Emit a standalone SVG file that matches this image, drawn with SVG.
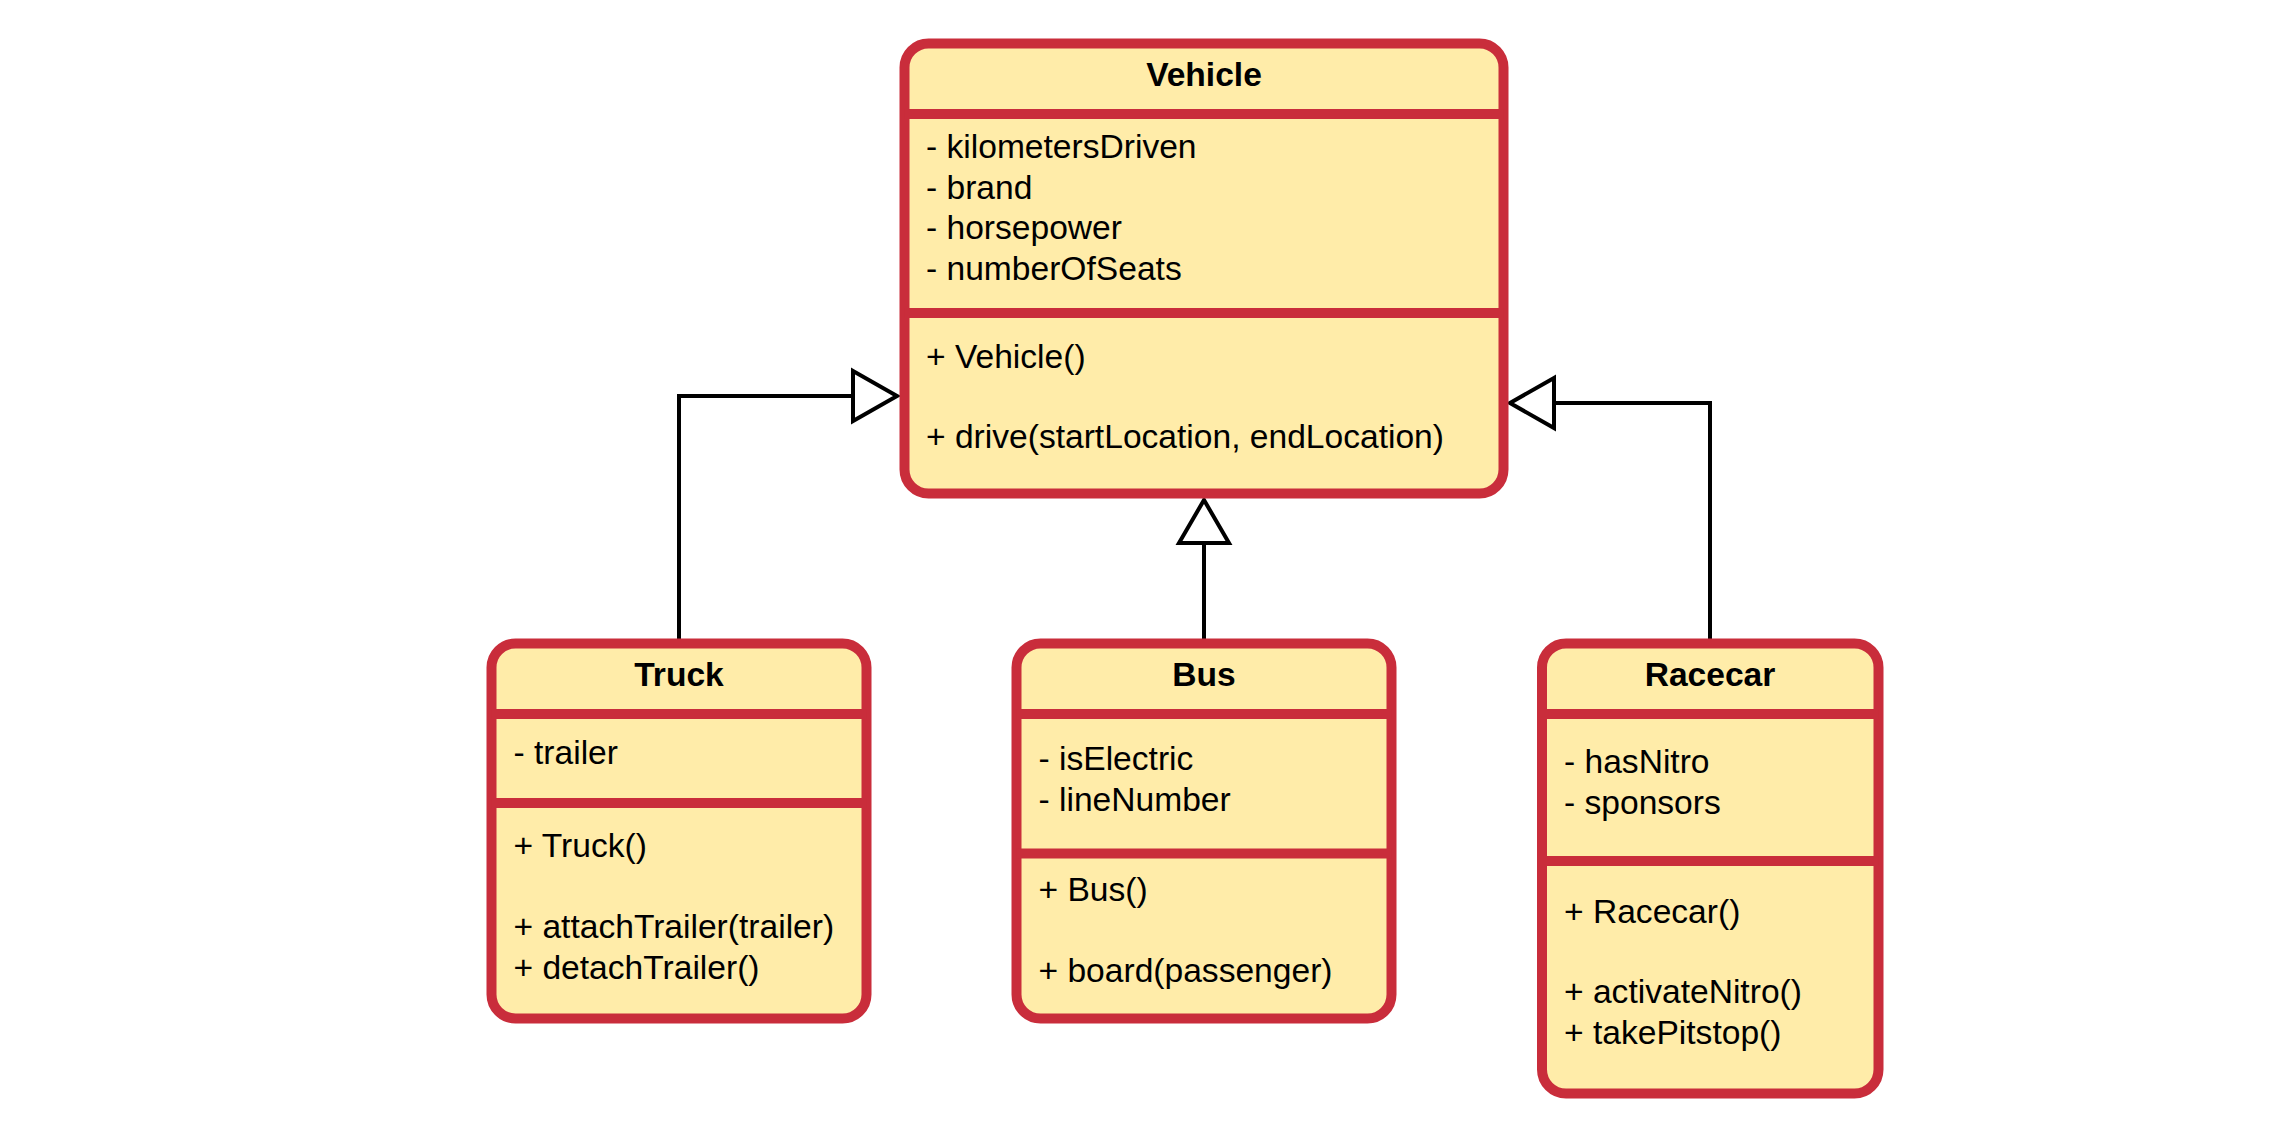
<svg xmlns="http://www.w3.org/2000/svg" width="2269" height="1123" viewBox="0 0 2269 1123">
  <style>
    .box { fill: #FFECA9; stroke: #C92D3B; stroke-width: 10; }
    .div { stroke: #C92D3B; stroke-width: 10; fill: none; }
    .t { font-family: "Liberation Sans", Arial, sans-serif; font-size: 33.6px; fill: #000000; }
    .title { font-weight: bold; text-anchor: middle; }
    .edge { fill: none; stroke: #000000; stroke-width: 4; }
    .head { fill: #FFFFFF; stroke: #000000; stroke-width: 4; stroke-linejoin: miter; }
  </style>
  <rect width="2269" height="1123" fill="#FFFFFF"/>

  <g id="connectors">
    <g id="edge-truck-vehicle">
      <path class="edge" d="M679,643 V396 H853"/>
      <polygon class="head" points="853,371 897,396 853,421"/>
    </g>
    <g id="edge-bus-vehicle">
      <path class="edge" d="M1204,640 V543"/>
      <polygon class="head" points="1179,543 1204,500 1229,543"/>
    </g>
    <g id="edge-racecar-vehicle">
      <path class="edge" d="M1710,643 V403 H1554"/>
      <polygon class="head" points="1554,378 1510,403 1554,428"/>
    </g>
  </g>

  <g id="vehicle">
    <rect class="box" x="904.5" y="43.5" width="599" height="450" rx="24" ry="24"/>
    <line class="div" x1="904.5" y1="114" x2="1503.5" y2="114"/>
    <line class="div" x1="904.5" y1="313" x2="1503.5" y2="313"/>
    <text class="t title" x="1204" y="86">Vehicle</text>
    <text class="t" x="926" y="158">- kilometersDriven</text>
    <text class="t" x="926" y="198.5">- brand</text>
    <text class="t" x="926" y="239">- horsepower</text>
    <text class="t" x="926" y="279.5">- numberOfSeats</text>
    <text class="t" x="926" y="368">+ Vehicle()</text>
    <text class="t" x="926" y="448">+ drive(startLocation, endLocation)</text>
  </g>

  <g id="truck">
    <rect class="box" x="491.5" y="643.5" width="375" height="375" rx="24" ry="24"/>
    <line class="div" x1="491.5" y1="714" x2="866.5" y2="714"/>
    <line class="div" x1="491.5" y1="803" x2="866.5" y2="803"/>
    <text class="t title" x="679" y="686">Truck</text>
    <text class="t" x="513.5" y="764">- trailer</text>
    <text class="t" x="513.5" y="857">+ Truck()</text>
    <text class="t" x="513.5" y="938">+ attachTrailer(trailer)</text>
    <text class="t" x="513.5" y="978.5">+ detachTrailer()</text>
  </g>

  <g id="bus">
    <rect class="box" x="1016.5" y="643.5" width="375" height="375" rx="24" ry="24"/>
    <line class="div" x1="1016.5" y1="714" x2="1391.5" y2="714"/>
    <line class="div" x1="1016.5" y1="853.5" x2="1391.5" y2="853.5"/>
    <text class="t title" x="1204" y="686">Bus</text>
    <text class="t" x="1038.5" y="770">- isElectric</text>
    <text class="t" x="1038.5" y="810.5">- lineNumber</text>
    <text class="t" x="1038.5" y="901">+ Bus()</text>
    <text class="t" x="1038.5" y="981.5">+ board(passenger)</text>
  </g>

  <g id="racecar">
    <rect class="box" x="1542" y="643.5" width="336.5" height="450" rx="24" ry="24"/>
    <line class="div" x1="1542" y1="714" x2="1878.5" y2="714"/>
    <line class="div" x1="1542" y1="861" x2="1878.5" y2="861"/>
    <text class="t title" x="1710" y="686">Racecar</text>
    <text class="t" x="1564" y="773">- hasNitro</text>
    <text class="t" x="1564" y="813.5">- sponsors</text>
    <text class="t" x="1564" y="923">+ Racecar()</text>
    <text class="t" x="1564" y="1003">+ activateNitro()</text>
    <text class="t" x="1564" y="1043.5">+ takePitstop()</text>
  </g>
</svg>
